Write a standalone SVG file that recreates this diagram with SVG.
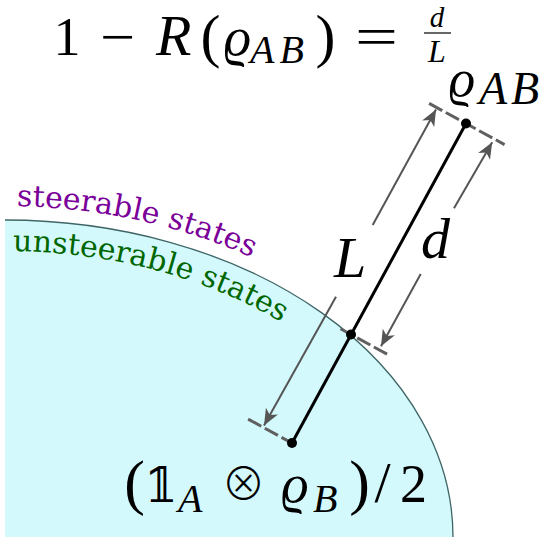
<svg xmlns="http://www.w3.org/2000/svg" width="548" height="544" viewBox="0 0 548 544">
<style>
text.m{font-family:"Liberation Serif","DejaVu Serif",serif;fill:#000}
text.s{font-family:"DejaVu Serif","DejaVu Sans",sans-serif;fill:#000;text-anchor:middle}
text.o{font-family:"Noto Sans CJK JP","DejaVu Sans",sans-serif;font-weight:300;fill:#000;text-anchor:middle}
text.i{font-style:italic}
text.c{text-anchor:middle}
.dim{stroke:#555;stroke-width:2;fill:none}
.ext{stroke:#606060;stroke-width:3;fill:none;stroke-dasharray:15 4}
.dot{fill:#000}
.curvtext{font-family:"DejaVu Serif",serif;font-size:30px}
</style>
<defs>
<marker id="arr" markerUnits="userSpaceOnUse" markerWidth="20" markerHeight="20" viewBox="-14 -7 16 14" refX="0" refY="0" orient="auto">
<path d="M0,0 L-13,-5.5 L-9.5,0 L-13,5.5 Z" fill="#555"/>
</marker>
<path id="outerArc" d="M5,206 A461,331 0 0 1 466,537"/>
<path id="innerArc" d="M5,251 A418,286 0 0 1 423,537"/>
</defs>

<g id="state-region">
<path d="M5,537 L5,220 A448,317 0 0 1 453,537 Z" fill="#d4f9fd"/>
<path d="M5,220 A448,317 0 0 1 453,537" fill="none" stroke="#3f6666" stroke-width="1.3"/>
</g>

<g id="region-labels">
<text class="curvtext" fill="#7a0099"><textPath href="#outerArc" startOffset="12">steerable states</textPath></text>
<text class="curvtext" fill="#006600"><textPath href="#innerArc" startOffset="8">unsteerable states</textPath></text>
</g>

<g id="connectors">
<line class="ext" x1="429.1" y1="103.4" x2="504.6" y2="144.6"/>
<line class="ext" x1="340.5" y1="328.8" x2="387.9" y2="354.6"/>
<line class="ext" x1="248.1" y1="419.1" x2="298.1" y2="446.4"/>
<line x1="466" y1="123.5" x2="292" y2="443" stroke="#000" stroke-width="3"/>
<line class="dim" x1="372.7" y1="225" x2="436" y2="109.5" marker-end="url(#arr)"/>
<line class="dim" x1="336" y1="296.7" x2="264" y2="425.4" marker-end="url(#arr)"/>
<line class="dim" x1="454" y1="208.3" x2="492.2" y2="142.3" marker-end="url(#arr)"/>
<line class="dim" x1="420.7" y1="274" x2="381" y2="346.3" marker-end="url(#arr)"/>
<text class="m i" x="334" y="277" font-size="58">L</text>
<text class="m i" x="421" y="258" font-size="58">d</text>
</g>

<g id="node-rhoAB">
<circle class="dot" cx="466" cy="123.5" r="5"/>
<text class="m i c" x="462" y="96" font-size="52">ϱ</text>
<text class="m i" x="479" y="104" font-size="46" textLength="60" lengthAdjust="spacing">AB</text>
</g>

<g id="node-boundary">
<circle class="dot" cx="351" cy="334.5" r="5"/>
</g>

<g id="node-mixed">
<circle class="dot" cx="292" cy="443" r="5"/>
<text class="m c" x="134.5" y="503" font-size="62">(</text>
<text class="s" x="161" y="502" font-size="48">𝟙</text>
<text class="m i" x="178" y="512" font-size="40">A</text>
<text class="o" x="243.5" y="500" font-size="44">⊗</text>
<text class="m i c" x="295" y="502" font-size="54">ϱ</text>
<text class="m i" x="313" y="512" font-size="40">B</text>
<text class="m c" x="359.5" y="503" font-size="62">)</text>
<text class="m c" x="382.5" y="502" font-size="58">/</text>
<text class="m c" x="413.5" y="502" font-size="54">2</text>
</g>

<g id="title">
<text class="m c" x="67" y="55" font-size="54">1</text>
<text class="m" x="100" y="55" font-size="54" textLength="35" lengthAdjust="spacingAndGlyphs">−</text>
<text class="m i" x="156" y="55" font-size="58">R</text>
<text class="m c" x="210.5" y="56" font-size="60">(</text>
<text class="m i c" x="237.5" y="55" font-size="54">ϱ</text>
<text class="m i" x="250" y="63" font-size="40" textLength="54" lengthAdjust="spacing">AB</text>
<text class="m c" x="325.5" y="56" font-size="60">)</text>
<text class="m" x="355" y="55" font-size="54" textLength="43" lengthAdjust="spacingAndGlyphs">=</text>
<text class="m i c" x="437" y="27" font-size="29">d</text>
<line x1="424" y1="33" x2="451" y2="33" stroke="#000" stroke-width="1.2"/>
<text class="m i c" x="437" y="62" font-size="32">L</text>
</g>
</svg>
